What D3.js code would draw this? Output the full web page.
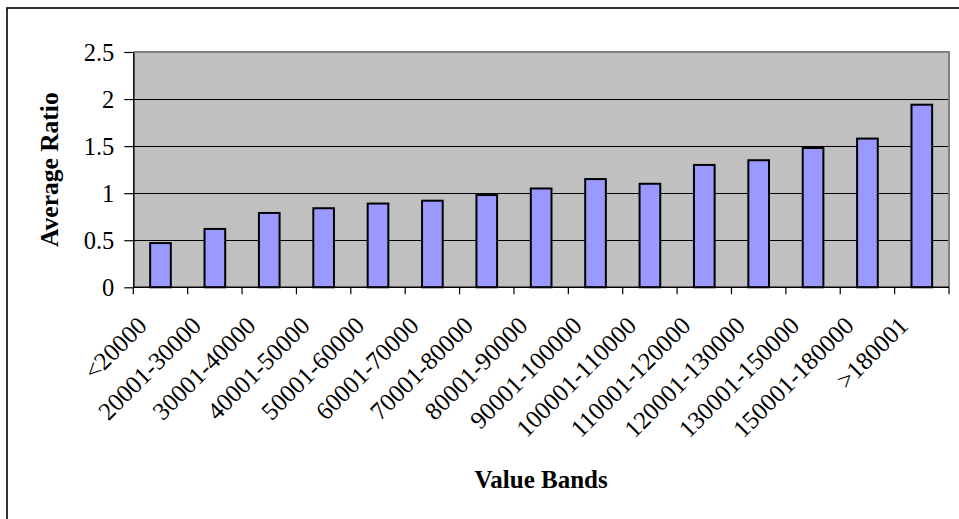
<!DOCTYPE html>
<html>
<head>
<meta charset="utf-8">
<script src="https://cdn.jsdelivr.net/npm/d3@7"></script>
<style>
  html, body { margin: 0; padding: 0; background: #fff; }
  svg { display: block; }
</style>
</head>
<body>
<svg id="chart" width="959" height="519"></svg>
<script>
// Average ratio per value band
const categories = [
  "<20000", "20001-30000", "30001-40000", "40001-50000", "50001-60000",
  "60001-70000", "70001-80000", "80001-90000", "90001-100000", "100001-110000",
  "110001-120000", "120001-130000", "130001-150000", "150001-180000", ">180001"
];
const values = [0.47, 0.62, 0.79, 0.84, 0.89, 0.92, 0.98, 1.05, 1.15, 1.10, 1.30, 1.35, 1.48, 1.58, 1.94];
const yTicks = [0, 0.5, 1, 1.5, 2, 2.5];
const xTitle = "Value Bands";
const yTitle = "Average Ratio";

const svg = d3.select("#chart");
const font = "'Liberation Serif', 'Times New Roman', serif";

const plot = { left: 133.3, right: 949, top: 52, bottom: 287.3 };

// chart frame (only the top and left edges fall inside the view)
svg.append("rect")
  .attr("x", 7).attr("y", 8)
  .attr("width", 980).attr("height", 540)
  .attr("fill", "#fff")
  .attr("stroke", "#000").attr("stroke-width", 1.6);

const x = d3.scaleBand()
  .domain(categories)
  .range([plot.left, plot.right])
  .paddingInner(0).paddingOuter(0);

const y = d3.scaleLinear()
  .domain([0, 2.5])
  .range([plot.bottom, plot.top]);

// plot area background
svg.append("rect")
  .attr("x", plot.left).attr("y", plot.top)
  .attr("width", plot.right - plot.left)
  .attr("height", plot.bottom - plot.top)
  .attr("fill", "#c0c0c0");

// gridlines
svg.append("g")
  .selectAll("line")
  .data(yTicks.filter(d => d > 0 && d < 2.5))
  .join("line")
  .attr("x1", plot.left).attr("x2", plot.right)
  .attr("y1", d => Math.round(y(d)) + 0.5).attr("y2", d => Math.round(y(d)) + 0.5)
  .attr("stroke", "#000").attr("stroke-width", 1);

// plot area border: top and right in grey
svg.append("path")
  .attr("d", `M${plot.left},${plot.top}H${plot.right}V${plot.bottom}`)
  .attr("fill", "none")
  .attr("stroke", "#808080").attr("stroke-width", 2);

// bars
const bw = x.bandwidth() * 0.38;
svg.append("g")
  .selectAll("rect")
  .data(values)
  .join("rect")
  .attr("x", (d, i) => x(categories[i]) + (x.bandwidth() - bw) / 2)
  .attr("y", d => y(d))
  .attr("width", bw)
  .attr("height", d => y(0) - y(d))
  .attr("fill", "#9999ff")
  .attr("stroke", "#000").attr("stroke-width", 2);

// y axis
const yAxis = svg.append("g")
  .attr("transform", `translate(${plot.left},0)`)
  .call(d3.axisLeft(y).tickValues(yTicks).tickFormat(d => String(d))
    .tickSize(9).tickSizeOuter(0).tickPadding(10));
yAxis.select(".domain").attr("stroke", "#000").attr("stroke-width", 1.5);
yAxis.selectAll(".tick line").attr("stroke", "#000").attr("stroke-width", 1.2);
yAxis.selectAll(".tick text")
  .attr("font-family", font).attr("font-size", 24.5).attr("fill", "#000")
  .attr("dy", "0.33em");

// x axis line and category boundary ticks
svg.append("line")
  .attr("x1", plot.left).attr("x2", plot.right)
  .attr("y1", plot.bottom).attr("y2", plot.bottom)
  .attr("stroke", "#000").attr("stroke-width", 1.5);
const bounds = categories.map(c => x(c)).concat([plot.right]);
svg.append("g")
  .selectAll("line")
  .data(bounds)
  .join("line")
  .attr("x1", d => d).attr("x2", d => d)
  .attr("y1", plot.bottom).attr("y2", plot.bottom + 7)
  .attr("stroke", "#000").attr("stroke-width", 1.2);

// rotated category labels
svg.append("g")
  .selectAll("text")
  .data(categories)
  .join("text")
  .attr("transform", d => `translate(${x(d) + x.bandwidth() / 2 - 18},${plot.bottom + 34}) rotate(-45)`)
  .attr("text-anchor", "end")
  .attr("dy", "0.33em")
  .attr("font-family", font).attr("font-size", 25).attr("fill", "#000")
  .text(d => d);

// axis titles
svg.append("text")
  .attr("x", (plot.left + plot.right) / 2).attr("y", 488)
  .attr("text-anchor", "middle")
  .attr("font-family", font).attr("font-size", 25).attr("font-weight", "bold")
  .text(xTitle);

svg.append("text")
  .attr("transform", `translate(58,${(plot.top + plot.bottom) / 2}) rotate(-90)`)
  .attr("text-anchor", "middle")
  .attr("font-family", font).attr("font-size", 25.5).attr("font-weight", "bold")
  .text(yTitle);
</script>
</body>
</html>
